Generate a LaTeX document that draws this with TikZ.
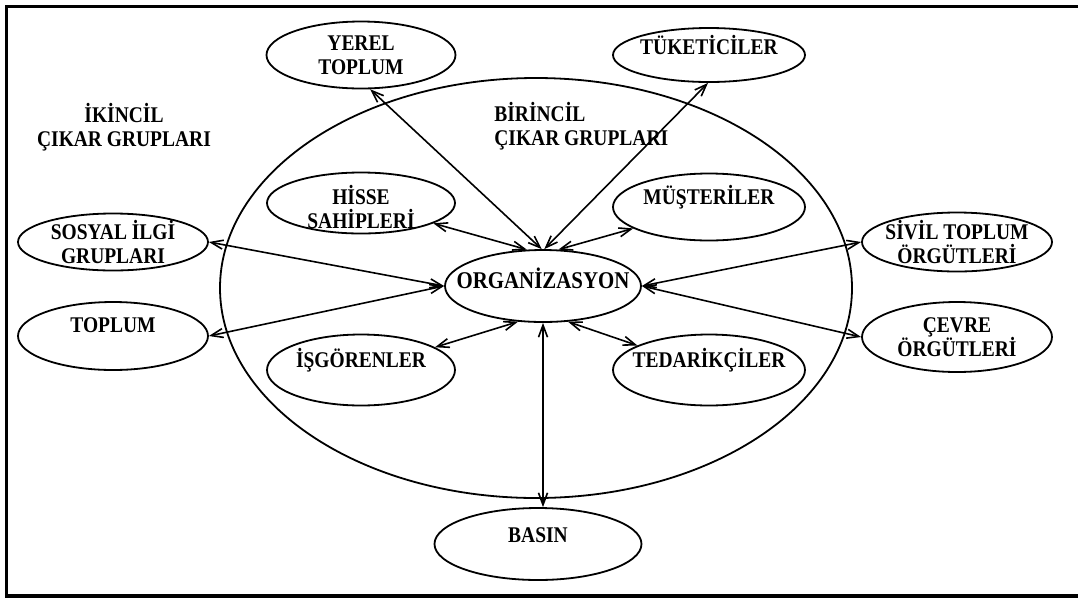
\documentclass[tikz,border=0pt]{standalone}
\usepackage{fontspec}
\setmainfont{Liberation Serif}[FakeStretch=0.87]
\usetikzlibrary{arrows.meta,shapes.geometric}

\begin{document}
\begin{tikzpicture}[x=0.5pt, y=-0.5pt,
      txt/.style={font=\fontsize{11.2}{12}\selectfont\bfseries, align=center, inner sep=0pt},
      ttl/.style={txt},
      grp/.style 2 args={draw, ellipse, line width=0.9pt, inner sep=0pt,
                         minimum width=#1*0.5pt, minimum height=#2*0.5pt},
      lnk/.style={line width=0.8pt,
                  {Straight Barb[length=6pt,width=4.5pt]}-{Straight Barb[length=6pt,width=4.5pt]}}]

    %% Geometry: one unit = one pixel of the 1078x601 sheet, y grows downwards.
    \useasboundingbox (0,0) rectangle (1078,601);
    %% the frame is cut off on the right, so only three sides
    \draw[line width=1.8pt] (1078,6.5) -- (6.5,6.5) -- (6.5,596) -- (1078,596);

    %% ---- the primary ring and the two headings ----
    \draw[line width=0.9pt] (536,288) ellipse [x radius=316, y radius=210];
    \node[ttl] (sec) at (124,127) {İKİNCİL\\ÇIKAR GRUPLARI};
    \node[ttl, anchor=west, align=left] (pri) at (494,126) {BİRİNCİL\\ÇIKAR GRUPLARI};

    %% ---- the groups; text sits as a centre label so the ellipse keeps its size ----
    \node[grp={196}{72}, label={[txt,yshift=4pt,font=\fontsize{12}{12}\selectfont\bfseries]center:ORGANİZASYON}] (org) at (543,286) {};
    \node[grp={189}{67}, label={[txt]center:YEREL\\TOPLUM}] (yerel) at (361,55) {};
    \node[grp={192}{54}, label={[txt,yshift=5pt]center:TÜKETİCİLER}] (tuket) at (709,55) {};
    \node[grp={188}{61}, label={[txt,yshift=-2pt]center:HİSSE\\SAHİPLERİ}] (hisse) at (361,203) {};
    \node[grp={192}{67}, label={[txt,yshift=5pt]center:MÜŞTERİLER}] (muster) at (709,207) {};
    \node[grp={190}{57}, label={[txt]center:SOSYAL İLGİ\\GRUPLARI}] (sosyal) at (113,242) {};
    \node[grp={190}{59}, label={[txt]center:SİVİL TOPLUM\\ÖRGÜTLERİ}] (sivil) at (957,242) {};
    \node[grp={190}{68}, label={[txt,yshift=5.5pt]center:TOPLUM}] (toplum) at (113,336) {};
    \node[grp={190}{70}, label={[txt]center:ÇEVRE\\ÖRGÜTLERİ}] (cevre) at (957,337) {};
    \node[grp={188}{71}, label={[txt,yshift=5pt]center:İŞGÖRENLER}] (isgor) at (361,370) {};
    \node[grp={192}{71}, label={[txt,yshift=5pt]center:TEDARİKÇİLER}] (tedar) at (709,370) {};
    \node[grp={207}{72}, label={[txt,yshift=4.5pt]center:BASIN}] (basin) at (538,544) {};

    %% ---- two-way links, all into the organisation ----
    \draw[lnk] (yerel.-75) -- (org.92);
    \draw[lnk] (tuket.-92) -- (org.88);
    \draw[lnk] (hisse) -- (org.114);
    \draw[lnk] (muster) -- (org.67);
    \draw[lnk] (sosyal.east) -- (org.west);
    \draw[lnk] (toplum.east) -- (org.west);
    \draw[lnk] (sivil.west) -- (org.east);
    \draw[lnk] (cevre.west) -- (org.east);
    \draw[lnk] (isgor) -- (org.235);
    \draw[lnk] (tedar) -- (org.-55);
    \draw[lnk] (org.south) -- (org.south |- basin.north);
  \end{tikzpicture}
\end{document}
